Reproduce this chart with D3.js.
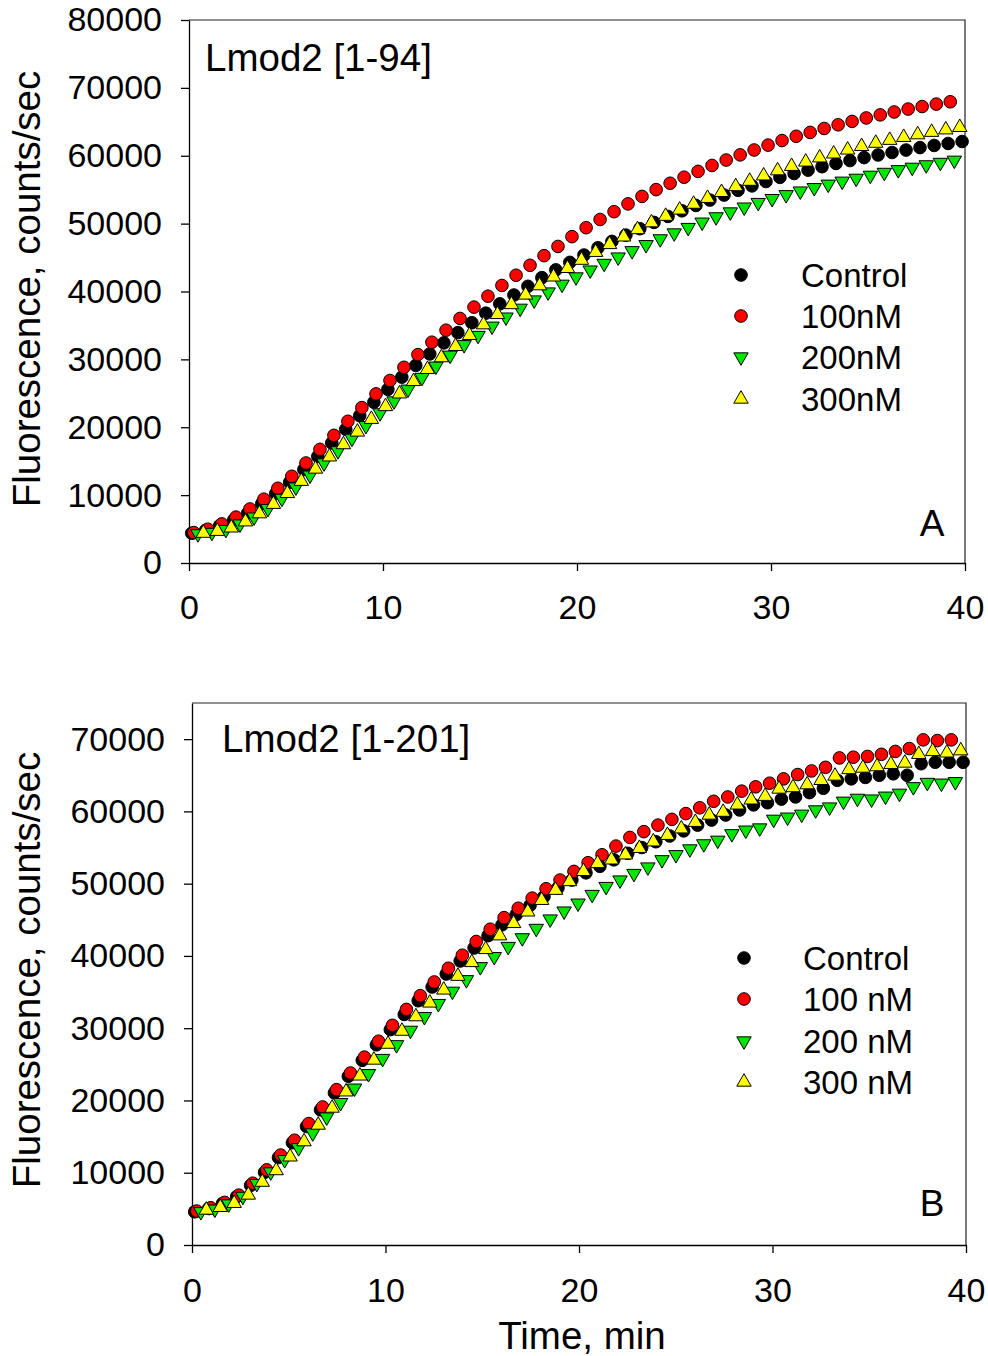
<!DOCTYPE html>
<html>
<head>
<meta charset="utf-8">
<script src="https://cdn.jsdelivr.net/npm/d3@7"></script>
<style>
  body { margin: 0; background: #ffffff; }
  svg text { font-family: "Liberation Sans", Arial, sans-serif; fill: #000; }
</style>
</head>
<body>
<svg id="chart" width="988" height="1356"></svg>
<script>
// Sampling times (min) for each condition; the four wells are read in turn
const tControl = [0.14, 0.86, 1.58, 2.31, 3.03, 3.75, 4.47, 5.19, 5.92, 6.64,
  7.36, 8.08, 8.80, 9.53, 10.25, 10.97, 11.69, 12.41, 13.14, 13.86,
  14.58, 15.30, 16.02, 16.75, 17.47, 18.19, 18.91, 19.63, 20.36, 21.08,
  21.80, 22.52, 23.24, 23.97, 24.69, 25.41, 26.13, 26.85, 27.58, 28.30,
  29.02, 29.74, 30.46, 31.19, 31.91, 32.63, 33.35, 34.07, 34.80, 35.52,
  36.24, 36.96, 37.68, 38.41, 39.13, 39.85];
const t100 = [0.25, 0.97, 1.69, 2.42, 3.14, 3.86, 4.58, 5.30, 6.03, 6.75,
  7.47, 8.19, 8.91, 9.64, 10.36, 11.08, 11.80, 12.52, 13.25, 13.97,
  14.69, 15.41, 16.13, 16.86, 17.58, 18.30, 19.02, 19.74, 20.47, 21.19,
  21.91, 22.63, 23.35, 24.08, 24.80, 25.52, 26.24, 26.96, 27.69, 28.41,
  29.13, 29.85, 30.57, 31.30, 32.02, 32.74, 33.46, 34.18, 34.91, 35.63,
  36.35, 37.07, 37.79, 38.52, 39.24];
const t200 = [0.46, 1.18, 1.90, 2.63, 3.35, 4.07, 4.79, 5.51, 6.24, 6.96,
  7.68, 8.40, 9.12, 9.85, 10.57, 11.29, 12.01, 12.73, 13.46, 14.18,
  14.90, 15.62, 16.34, 17.07, 17.79, 18.51, 19.23, 19.95, 20.68, 21.40,
  22.12, 22.84, 23.56, 24.29, 25.01, 25.73, 26.45, 27.17, 27.90, 28.62,
  29.34, 30.06, 30.78, 31.51, 32.23, 32.95, 33.67, 34.39, 35.12, 35.84,
  36.56, 37.28, 38.00, 38.73, 39.45];
const t300 = [0.74, 1.46, 2.18, 2.91, 3.63, 4.35, 5.07, 5.79, 6.52, 7.24,
  7.96, 8.68, 9.40, 10.13, 10.85, 11.57, 12.29, 13.01, 13.74, 14.46,
  15.18, 15.90, 16.62, 17.35, 18.07, 18.79, 19.51, 20.23, 20.96, 21.68,
  22.40, 23.12, 23.84, 24.57, 25.29, 26.01, 26.73, 27.45, 28.18, 28.90,
  29.62, 30.34, 31.06, 31.79, 32.51, 33.23, 33.95, 34.67, 35.40, 36.12,
  36.84, 37.56, 38.28, 39.01, 39.73];

// Panel A: Lmod2 [1-94], fluorescence (counts/sec)
const controlA = [4390, 4820, 5490, 6330, 7360, 8730, 10230, 11890, 13770, 15700,
  17680, 19700, 21710, 23680, 25580, 27380, 29110, 30800, 32430, 33940,
  35400, 36810, 38180, 39480, 40770, 42040, 43190, 44290, 45370, 46440,
  47380, 48310, 49250, 50180, 51060, 51890, 52680, 53470, 54210, 54910,
  55560, 56200, 56810, 57380, 57880, 58390, 58860, 59290, 59730, 60120,
  60480, 60840, 61200, 61520, 61810, 62100];
const nM100A = [4480, 4980, 5760, 6760, 7960, 9400, 11010, 12780, 14730, 16740,
  18810, 20880, 22890, 24910, 26890, 28830, 30700, 32530, 34300, 36030,
  37700, 39310, 40890, 42400, 43860, 45280, 46640, 48080, 49400, 50610,
  51760, 52910, 54010, 55010, 55950, 56840, 57700, 58570, 59370, 60130,
  60850, 61570, 62240, 62870, 63440, 64020, 64560, 65060, 65570, 66020,
  66450, 66880, 67250, 67610, 67950];
const nM200A = [4290, 4500, 4930, 5730, 6760, 8010, 9520, 11180, 12930, 14730,
  16530, 18360, 20230, 22110, 23870, 25600, 27330, 28990, 30600, 32150,
  33520, 34880, 36220, 37520, 38740, 39920, 41060, 42140, 43150, 44130,
  45070, 46000, 46890, 47750, 48620, 49420, 50210, 50990, 51710, 52430,
  53100, 53680, 54250, 54790, 55290, 55800, 56240, 56670, 57110, 57540,
  57930, 58290, 58650, 59010, 59330];
const nM300A = [4400, 4680, 5180, 6080, 7270, 8660, 10250, 12050, 13850, 15650,
  17450, 19310, 21180, 23060, 24930, 26750, 28530, 30260, 31920, 33540,
  35110, 36620, 38080, 39490, 40860, 42160, 43410, 44620, 45780, 46930,
  48050, 49130, 50140, 51100, 52020, 52880, 53740, 54610, 55470, 56260,
  57050, 57800, 58450, 59090, 59700, 60280, 60860, 61380, 61860, 62290,
  62720, 63110, 63470, 63830, 64190];

// Panel B: Lmod2 [1-201], fluorescence (counts/sec)
const controlB = [4600, 5050, 5750, 6700, 8250, 10050, 12100, 14150, 16400, 18700,
  21050, 23350, 25550, 27700, 29800, 31900, 33800, 35700, 37500, 39300,
  41100, 42800, 44300, 45700, 47000, 48200, 49400, 50500, 51500, 52400,
  53300, 54200, 55000, 55800, 56600, 57300, 58100, 58800, 59500, 60200,
  60900, 61200, 61700, 62000, 62600, 63200, 64300, 64500, 64700, 65000,
  65200, 65000, 66600, 66800, 66800, 66800];
const nM100B = [4700, 5150, 5900, 6900, 8550, 10400, 12450, 14500, 16800, 19100,
  21500, 23800, 26000, 28200, 30400, 32600, 34500, 36400, 38300, 40100,
  42000, 43700, 45300, 46600, 48000, 49300, 50500, 51700, 52900, 54000,
  55200, 56400, 57200, 58100, 58900, 59700, 60500, 61400, 62000, 62800,
  63400, 63900, 64500, 65100, 65600, 66100, 67400, 67500, 67600, 67900,
  68300, 68700, 69900, 69800, 69900];
const nM200B = [4600, 4950, 5670, 6720, 8500, 10100, 11800, 13450, 15500, 17700,
  19700, 21700, 23700, 25800, 27700, 29700, 31600, 33400, 35100, 36700,
  38500, 39900, 41300, 42500, 43800, 45100, 46200, 47300, 48500, 49600,
  50500, 51400, 52300, 53300, 54000, 54800, 55500, 56000, 56900, 57400,
  57700, 58900, 59200, 59600, 60200, 60600, 61400, 61800, 61700, 62100,
  62500, 63400, 64000, 63900, 64100];
const nM300B = [4840, 5210, 5770, 6920, 8700, 10300, 12200, 14300, 16600, 18950,
  21200, 23400, 25600, 27800, 29600, 31600, 33500, 35300, 37200, 39100,
  40900, 42800, 44500, 46100, 47700, 49100, 50300, 51700, 52800, 53300,
  54000, 54900, 55800, 56700, 57600, 58500, 59500, 59900, 60900, 61600,
  62100, 63100, 63300, 63700, 64300, 64900, 65800, 66000, 66200, 66500,
  66700, 67900, 68300, 68100, 68400];

const xTicks = [0, 10, 20, 30, 40];
const yTicksA = [0, 10000, 20000, 30000, 40000, 50000, 60000, 70000, 80000];
const yTicksB = [0, 10000, 20000, 30000, 40000, 50000, 60000, 70000];
const legendA = ["Control", "100nM", "200nM", "300nM"];
const legendB = ["Control", "100 nM", "200 nM", "300 nM"];

// Marker style per condition (legend order)
const markers = [
  { shape: "circle", fill: "#000000" },
  { shape: "circle", fill: "#ff0000" },
  { shape: "down",   fill: "#00e600" },
  { shape: "up",     fill: "#ffff00" }
];

const FONT = '"Liberation Sans", Arial, sans-serif';
const svg = d3.select("#chart");
const triPath = d3.symbol(d3.symbolTriangle, 90)();

function drawMarker(sel, m, px, py) {
  if (m.shape === "circle") {
    sel.append("circle").attr("cx", px).attr("cy", py).attr("r", 6.3)
      .attr("fill", m.fill).attr("stroke", "#000").attr("stroke-width", 1);
  } else {
    sel.append("path").attr("d", triPath)
      .attr("transform", `translate(${px},${py})` + (m.shape === "down" ? " rotate(180)" : ""))
      .attr("fill", m.fill).attr("stroke", "#000").attr("stroke-width", 1);
  }
}

function drawPanel(p) {
  const x = d3.scaleLinear().domain([0, 40]).range([p.left, p.right]);
  const y = d3.scaleLinear().domain([0, p.yMax]).range([p.bottom, p.top]);
  const g = svg.append("g");

  // frame on top and right
  g.append("path")
    .attr("d", `M${p.left},${p.top}H${p.right}V${p.bottom}`)
    .attr("fill", "none").attr("stroke", "#222").attr("stroke-width", 1.2);

  const xa = g.append("g").attr("transform", `translate(0,${p.bottom})`)
    .call(d3.axisBottom(x).tickValues(xTicks).tickSizeInner(8).tickSizeOuter(0)
      .tickPadding(p.xPad).tickFormat(d3.format("d")));
  const ya = g.append("g").attr("transform", `translate(${p.left},0)`)
    .call(d3.axisLeft(y).tickValues(p.yTicks).tickSizeInner(8).tickSizeOuter(0)
      .tickPadding(19).tickFormat(d3.format("d")));
  [xa, ya].forEach(a => {
    a.attr("font-family", FONT).attr("font-size", 34);
    a.selectAll("path,line").attr("stroke", "#000").attr("stroke-width", 1.3);
    a.selectAll("text").attr("fill", "#000");
  });

  // data
  p.series.forEach((vals, si) => {
    const m = markers[si];
    const tg = g.append("g");
    vals.forEach((v, i) => drawMarker(tg, m, x(p.times[si][i]), y(v)));
  });

  // legend
  p.legend.forEach((label, i) => {
    const cy = p.legY[i];
    drawMarker(g, markers[i], p.legX, cy);
    g.append("text").attr("x", p.legTextX).attr("y", cy + 12)
      .attr("font-size", 33).text(label);
  });

  g.append("text").attr("x", p.titleX).attr("y", p.titleY)
    .attr("font-size", 38.5).text(p.title);
  g.append("text").attr("x", 932).attr("y", p.letterY)
    .attr("text-anchor", "middle").attr("font-size", 37).text(p.letter);

  g.append("text")
    .attr("transform", `translate(40,${p.yLabelY}) rotate(-90)`)
    .attr("text-anchor", "middle").attr("font-size", 38.5)
    .text("Fluorescence, counts/sec");
}

const times = [tControl, t100, t200, t300];

drawPanel({
  left: 189, right: 965, top: 20, bottom: 563, yMax: 80000, yTicks: yTicksA, xPad: 24,
  series: [controlA, nM100A, nM200A, nM300A], times,
  legend: legendA, legX: 741, legTextX: 801, legY: [275, 316, 357, 399],
  title: "Lmod2 [1-94]", titleX: 205, titleY: 71,
  letter: "A", letterY: 536, yLabelY: 289
});

drawPanel({
  left: 192, right: 966, top: 703, bottom: 1245, yMax: 75000, yTicks: yTicksB, xPad: 25,
  series: [controlB, nM100B, nM200B, nM300B], times,
  legend: legendB, legX: 744, legTextX: 803, legY: [958, 999, 1041, 1082],
  title: "Lmod2 [1-201]", titleX: 222, titleY: 752,
  letter: "B", letterY: 1216, yLabelY: 970
});

svg.append("text").attr("x", 582).attr("y", 1349)
  .attr("text-anchor", "middle").attr("font-size", 38.5).text("Time, min");
</script>
</body>
</html>
